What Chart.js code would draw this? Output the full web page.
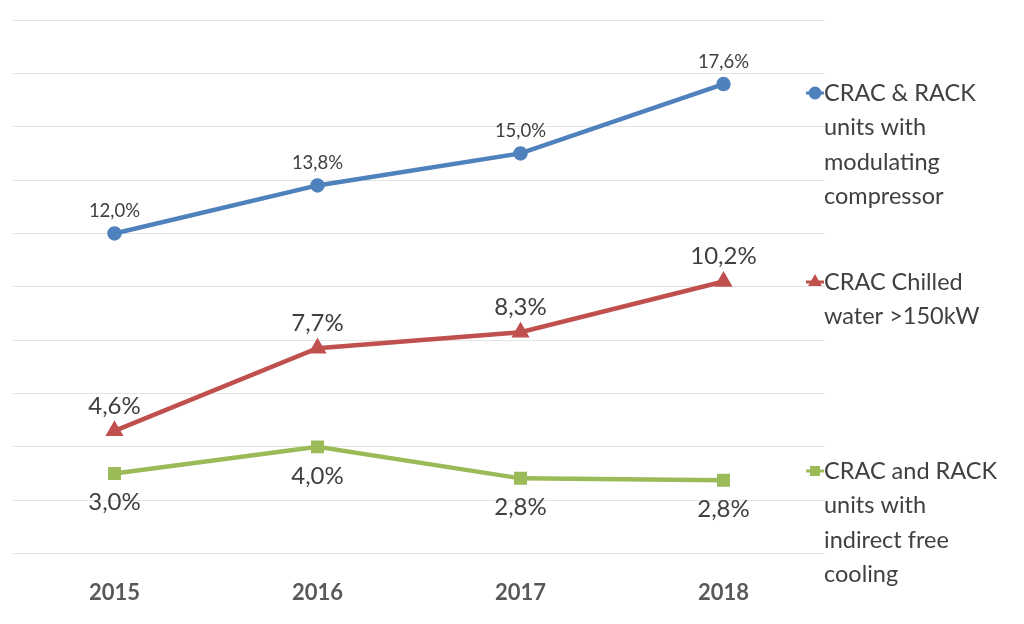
<!DOCTYPE html>
<html>
<head>
<meta charset="utf-8">
<title>CRAC units</title>
<script src="https://cdn.jsdelivr.net/npm/chart.js@4.4.0/dist/chart.umd.min.js"></script>
<style>
  html, body { margin: 0; padding: 0; background: #ffffff; }
  #wrap { width: 1024px; height: 624px; }
</style>
</head>
<body>
<div id="wrap"><canvas id="myChart" width="1024" height="624"></canvas></div>
<script>
const years = ['2015', '2016', '2017', '2018'];
const modulating = [12.0, 13.8, 15.0, 17.6];
const chilled = [4.6, 7.7, 8.3, 10.2];
const freeCooling = [3.0, 4.0, 2.82, 2.75];
const valueLabels = {
  modulating: ['12,0%', '13,8%', '15,0%', '17,6%'],
  chilled: ['4,6%', '7,7%', '8,3%', '10,2%'],
  freeCooling: ['3,0%', '4,0%', '2,8%', '2,8%']
};
const legendLines = [
  ['CRAC & RACK', 'units with', 'modulating', 'compressor'],
  ['CRAC Chilled', 'water >150kW'],
  ['CRAC and RACK', 'units with', 'indirect free', 'cooling']
];
const legendTop = [93, 282, 471];

const FONT = 'Lato, "Open Sans", sans-serif';

// labels next to points + wrapped legend on the right
const extras = {
  id: 'extras',
  afterDatasetsDraw(chart) {
    const ctx = chart.ctx;
    ctx.save();
    ctx.fillStyle = '#404040';
    ctx.textAlign = 'center';
    ctx.textBaseline = 'middle';
    chart.data.datasets.forEach((ds, i) => {
      const meta = chart.getDatasetMeta(i);
      ctx.font = ds.lblSize + 'px ' + FONT;
      meta.data.forEach((pt, j) => {
        ctx.fillText(ds.lbls[j], pt.x, pt.y + ds.lblOffset);
      });
    });

    // legend
    ctx.textAlign = 'left';
    ctx.font = '23.5px ' + FONT;
    chart.data.datasets.forEach((ds, i) => {
      const y0 = legendTop[i];
      legendLines[i].forEach((t, k) => {
        ctx.fillText(t, 824, y0 + k * 34.5);
      });
      ctx.strokeStyle = ds.borderColor;
      ctx.fillStyle = ds.borderColor;
      ctx.lineWidth = 3;
      ctx.beginPath();
      ctx.moveTo(806, y0);
      ctx.lineTo(824, y0);
      ctx.stroke();
      Chart.helpers.drawPoint(ctx, {pointStyle: ds.pointStyle, radius: 5, borderWidth: 1}, 815, y0);
      ctx.fill();
      ctx.fillStyle = '#404040';
    });
    ctx.restore();
  }
};

new Chart(document.getElementById('myChart'), {
  type: 'line',
  data: {
    labels: years,
    datasets: [
      {
        label: legendLines[0].join(' '),
        data: modulating,
        borderColor: '#4F81BD',
        backgroundColor: '#4F81BD',
        borderWidth: 4.5,
        pointStyle: 'circle',
        pointRadius: 5,
        lbls: valueLabels.modulating,
        lblSize: 18.5,
        lblOffset: -22
      },
      {
        label: legendLines[1].join(' '),
        data: chilled,
        borderColor: '#C0504D',
        backgroundColor: '#C0504D',
        borderWidth: 4.5,
        pointStyle: 'triangle',
        pointRadius: 6,
        lbls: valueLabels.chilled,
        lblSize: 24,
        lblOffset: -25
      },
      {
        label: legendLines[2].join(' '),
        data: freeCooling,
        borderColor: '#9BBB59',
        backgroundColor: '#9BBB59',
        borderWidth: 4.5,
        pointStyle: 'rect',
        pointRadius: 6,
        lbls: valueLabels.freeCooling,
        lblSize: 24,
        lblOffset: 29
      }
    ]
  },
  options: {
    responsive: false,
    animation: false,
    layout: { padding: { top: 20, left: 13, right: 199, bottom: 0 } },
    plugins: { legend: { display: false }, tooltip: { enabled: false } },
    scales: {
      x: {
        offset: true,
        grid: { display: false },
        border: { display: false },
        ticks: { color: '#595959', font: { family: FONT, size: 22, weight: 'bold' }, padding: 18 }
      },
      y: {
        min: 0,
        max: 20,
        ticks: { display: false, stepSize: 2 },
        border: { display: false },
        grid: { color: '#e4e4e4', lineWidth: 1, drawTicks: false }
      }
    }
  },
  plugins: [extras]
});
</script>
</body>
</html>
